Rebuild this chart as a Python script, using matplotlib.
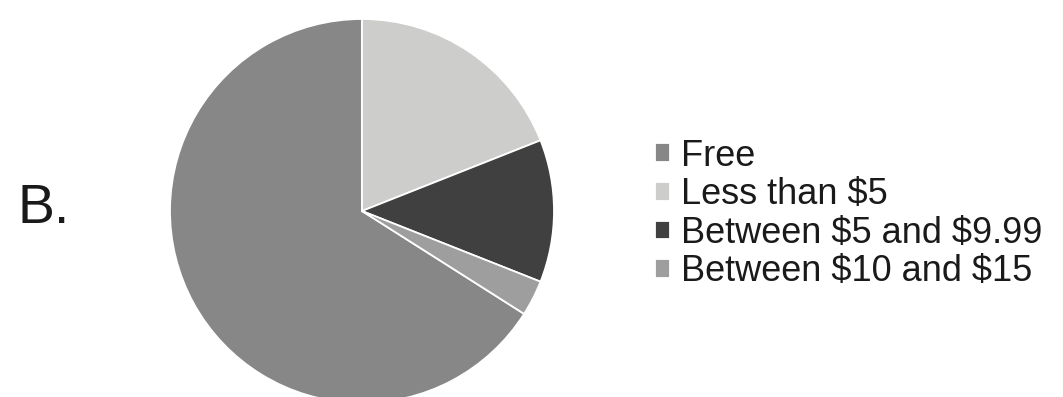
import matplotlib
matplotlib.use("Agg")
from matplotlib import pyplot as plt

# Price categories and share of respondents (%)
labels = ["Free", r"Less than \$5", r"Between \$5 and \$9.99", r"Between \$10 and \$15"]
shares = [66, 19, 12, 3]
colors = ["#878787", "#cdcdcb", "#404040", "#9e9e9e"]

plt.rcParams["font.family"] = ["Liberation Sans", "DejaVu Sans"]

W, H = 1063, 397
fig = plt.figure(figsize=(W / 100, H / 100), dpi=100)

# square axes holding the pie, radius ~192 px around (362, 211)
r = 192
cx, cy = 362, H - 211
ax = fig.add_axes([(cx - r) / W, (cy - r) / H, 2 * r / W, 2 * r / H])

# Free ends at 12 o'clock, the rest follow clockwise from there
start = 90 + 360.0 * shares[0] / sum(shares)
wedges, _ = ax.pie(shares, colors=colors, startangle=start, counterclock=False,
                   wedgeprops=dict(edgecolor="white", linewidth=1.3))
ax.set_xlim(-1, 1)
ax.set_ylim(-1, 1)

fig.legend(wedges, labels, loc="center left",
           bbox_to_anchor=(655 / W, (H - 214) / H),
           frameon=False, fontsize=26, borderpad=0, borderaxespad=0,
           handlelength=0.42, handleheight=0.42, handletextpad=0.3,
           labelspacing=0.1, labelcolor="#1a1a1a")

fig.text(17 / W, (H - 223) / H, "B.", fontsize=40, color="#1a1a1a",
         va="baseline", ha="left")

fig.savefig("out.png", dpi=100)
